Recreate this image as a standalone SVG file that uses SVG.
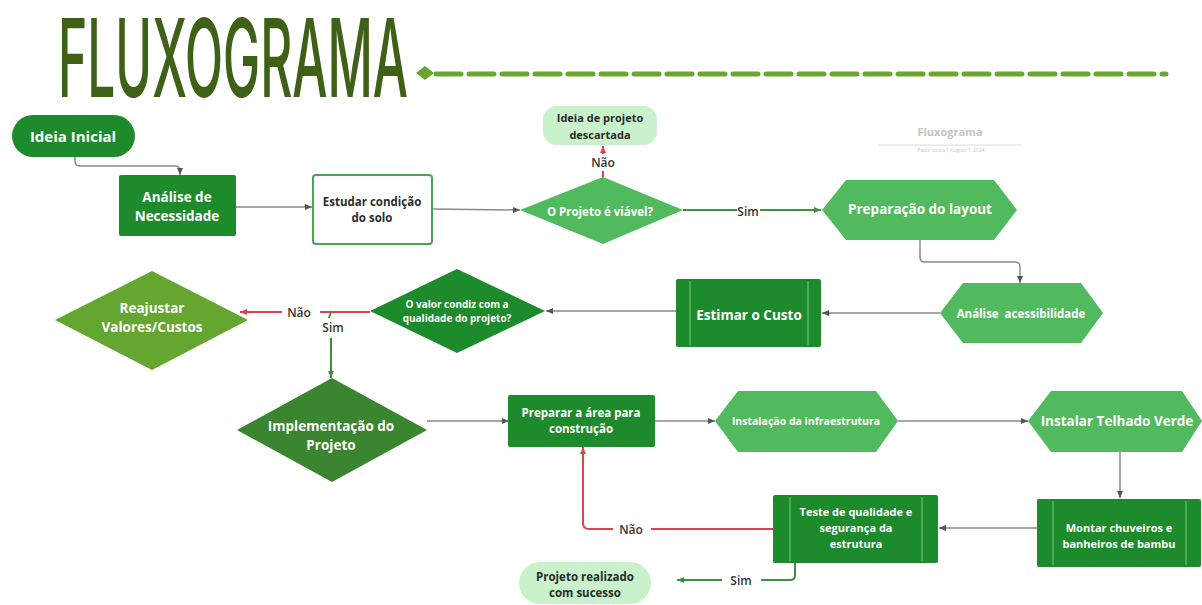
<svg xmlns="http://www.w3.org/2000/svg" width="1202" height="605" viewBox="0 0 1202 605">
<style>
.t{font-family:"Open Sans","Liberation Sans",sans-serif;font-weight:700;text-anchor:middle;dominant-baseline:central}
.w{fill:#ffffff}
.d{fill:#2b2b2b}
.dk{fill:#1d8b2b}
.md{fill:#52ba5e}
.lt{fill:#c9f1cb}
.c{fill:none;stroke:#8a8a8a;stroke-width:1.5}
.r{fill:none;stroke:#d9454f;stroke-width:2}
.g{fill:none;stroke:#3f8f3f;stroke-width:2}
.vl{stroke:#6fc07a;stroke-width:1.2}
.lbl{font-family:"Open Sans","Liberation Sans",sans-serif;font-weight:600;font-size:12px;fill:#333;text-anchor:middle;dominant-baseline:central}
</style>
<defs>
<marker id="ag" markerWidth="8" markerHeight="8" refX="7" refY="4" orient="auto" markerUnits="userSpaceOnUse"><path d="M0,1 L7,4 L0,7 z" fill="#555"/></marker>
<marker id="ar" markerWidth="8" markerHeight="8" refX="7" refY="4" orient="auto" markerUnits="userSpaceOnUse"><path d="M0,1 L7,4 L0,7 z" fill="#d9454f"/></marker>
<marker id="agr" markerWidth="8" markerHeight="8" refX="7" refY="4" orient="auto" markerUnits="userSpaceOnUse"><path d="M0,1 L7,4 L0,7 z" fill="#3f8f3f"/></marker>
</defs>
<rect width="1202" height="605" fill="#ffffff"/>

<g id="title">
<text transform="translate(58,97) scale(0.46,1)" x="0" y="0" font-family="Inter,'DejaVu Sans',sans-serif" font-size="108" font-weight="500" fill="#3f6117">FLUXOGRAMA</text>
<path d="M416,73 L425,66 L434,73 L425,80 z" fill="#6aa62e"/>
<line x1="436" y1="74" x2="1166" y2="74" stroke="#6aa62e" stroke-width="5" stroke-linecap="round" stroke-dasharray="25,8"/>
</g>

<g id="watermark">
<text x="950" y="136" font-family="'Open Sans','Liberation Sans',sans-serif" font-size="11" font-weight="700" fill="#c4c4c4" text-anchor="middle">Fluxograma</text>
<line x1="878" y1="145" x2="1022" y2="145" stroke="#dcdcdc" stroke-width="1"/>
<text x="951" y="152" font-family="'Open Sans','Liberation Sans',sans-serif" font-size="5" fill="#c8c8c8" text-anchor="middle">Paola souza  |  August 7, 2024</text>
</g>

<g id="connectors">
<path class="c" d="M75,157 L75,161 Q75,166 80,166 L175,166 Q180,166 180,171 L180,175" marker-end="url(#ag)"/>
<path class="c" d="M236,207 L312,207" marker-end="url(#ag)"/>
<path class="c" d="M432,209 L520,210" marker-end="url(#ag)"/>
<path class="r" d="M603,177 L603,171"/>
<path class="r" d="M603,154 L603,146" marker-end="url(#ar)"/>
<path class="g" d="M683,210 L737,210"/>
<path class="g" d="M760,210 L821,210" marker-end="url(#agr)"/>
<path class="c" d="M920,240 L920,257 Q920,262 925,262 L1015,262 Q1020,262 1020,267 L1020,283" marker-end="url(#ag)"/>
<path class="c" d="M940,313 L822,313" marker-end="url(#ag)"/>
<path class="c" d="M676,311 L546,311" marker-end="url(#ag)"/>
<path class="r" d="M370,312 L320,312"/>
<path class="r" d="M282,312 L240,312" marker-end="url(#ar)"/>
<path class="g" d="M331,312 L329,318"/>
<path class="g" d="M331,338 L331,378" marker-end="url(#agr)"/>
<path class="c" d="M427,421 L509,421" marker-end="url(#ag)"/>
<path class="c" d="M655,421 L715,421" marker-end="url(#ag)"/>
<path class="c" d="M898,421 L1028,421" marker-end="url(#ag)"/>
<path class="c" d="M1120,452 L1120,498" marker-end="url(#ag)"/>
<path class="c" d="M1037,528 L939,528" marker-end="url(#ag)"/>
<path class="r" d="M773,529 L651,529"/>
<path class="r" d="M613,529 L589,529 Q583,529 583,523 L583,447" marker-end="url(#ar)"/>
<path class="g" d="M795,563 L795,575 Q795,580 790,580 L761,580"/>
<path class="g" d="M722,580 L677,580" marker-end="url(#agr)"/>
<text class="lbl" x="603" y="162">Não</text>
<text class="lbl" x="748" y="211">Sim</text>
<text class="lbl" x="299" y="312">Não</text>
<text class="lbl" x="333" y="327">Sim</text>
<text class="lbl" x="631" y="529">Não</text>
<text class="lbl" x="741" y="580">Sim</text>
</g>

<g id="ideia-inicial">
<rect x="12" y="115" width="123" height="42" rx="21" class="dk"/>
<text class="t w" x="73" y="136" font-size="15">Ideia Inicial</text>
</g>

<g id="analise-necessidade">
<rect x="119" y="175" width="117" height="61" rx="2" class="dk"/>
<text class="t w" x="177" y="197" font-size="13.5">Análise de</text>
<text class="t w" x="177" y="216" font-size="13.5">Necessidade</text>
</g>

<g id="estudar-solo">
<rect x="313" y="175" width="119" height="69" rx="3" fill="#ffffff" stroke="#4aa356" stroke-width="2"/>
<text class="t d" x="372" y="201" font-size="11.5" font-weight="600">Estudar condição</text>
<text class="t d" x="372" y="217" font-size="11.5" font-weight="600">do solo</text>
</g>

<g id="projeto-viavel">
<path d="M520,210 L603,177 L683,210 L603,244 z" class="md"/>
<text class="t w" x="600" y="211" font-size="11.5">O Projeto é viável?</text>
</g>

<g id="ideia-descartada">
<rect x="543" y="106" width="114" height="39" rx="14" class="lt"/>
<text class="t d" x="600" y="117" font-size="11" font-weight="600">Ideia de projeto</text>
<text class="t d" x="600" y="134" font-size="11" font-weight="600">descartada</text>
</g>

<g id="preparacao-layout">
<path d="M822,210 L846,180 L994,180 L1017,210 L994,240 L846,240 z" class="md"/>
<text class="t w" x="920" y="209" font-size="13.5">Preparação do layout</text>
</g>

<g id="analise-acessibilidade">
<path d="M940,313 L963,283 L1081,283 L1103,313 L1081,343 L963,343 z" class="md"/>
<text class="t w" x="1021" y="313" font-size="11.5" xml:space="preserve">Análise  acessibilidade</text>
</g>

<g id="estimar-custo">
<rect x="676" y="279" width="145" height="68" rx="2" class="dk"/>
<line class="vl" x1="690" y1="281" x2="690" y2="345"/>
<line class="vl" x1="808" y1="281" x2="808" y2="345"/>
<text class="t w" x="749" y="315" font-size="13.5">Estimar o Custo</text>
</g>

<g id="valor-condiz">
<path d="M370,311 L457,269 L545,311 L457,353 z" class="dk"/>
<text class="t w" x="457" y="304" font-size="10">O valor condiz com a</text>
<text class="t w" x="457" y="318" font-size="10">qualidade do projeto?</text>
</g>

<g id="reajustar">
<path d="M55,320 L152,271 L248,320 L152,370 z" fill="#64a62f"/>
<text class="t w" x="152" y="308" font-size="13.5">Reajustar</text>
<text class="t w" x="152" y="327" font-size="13.5">Valores/Custos</text>
</g>

<g id="implementacao">
<path d="M237,430 L332,378 L427,430 L332,482 z" fill="#3b8430"/>
<text class="t w" x="331" y="426" font-size="13.5">Implementação do</text>
<text class="t w" x="331" y="445" font-size="13.5">Projeto</text>
</g>

<g id="preparar-area">
<rect x="508" y="395" width="147" height="52" rx="2" class="dk"/>
<text class="t w" x="581" y="412" font-size="11.5">Preparar a área para</text>
<text class="t w" x="581" y="428" font-size="11.5">construção</text>
</g>

<g id="instalacao-infra">
<path d="M715,421 L738,391 L876,391 L898,421 L876,452 L738,452 z" class="md"/>
<text class="t w" x="806" y="421" font-size="10.5">Instalação da infraestrutura</text>
</g>

<g id="telhado-verde">
<path d="M1028,421 L1051,391 L1182,391 L1202,421 L1182,452 L1051,452 z" class="md"/>
<text class="t w" x="1117" y="421" font-size="13.5">Instalar Telhado Verde</text>
</g>

<g id="montar-chuveiros">
<rect x="1037" y="499" width="164" height="68" rx="2" class="dk"/>
<line class="vl" x1="1053" y1="501" x2="1053" y2="565"/>
<line class="vl" x1="1186" y1="501" x2="1186" y2="565"/>
<text class="t w" x="1119" y="527" font-size="11">Montar chuveiros e</text>
<text class="t w" x="1119" y="543" font-size="11">banheiros de bambu</text>
</g>

<g id="teste-qualidade">
<rect x="773" y="495" width="165" height="68" rx="2" class="dk"/>
<line class="vl" x1="790" y1="497" x2="790" y2="561"/>
<line class="vl" x1="922" y1="497" x2="922" y2="561"/>
<text class="t w" x="856" y="511" font-size="11">Teste de qualidade e</text>
<text class="t w" x="856" y="527" font-size="11">segurança da</text>
<text class="t w" x="856" y="543" font-size="11">estrutura</text>
</g>

<g id="projeto-realizado">
<rect x="519" y="562" width="132" height="42" rx="21" class="lt"/>
<text class="t d" x="585" y="576" font-size="11.5" font-weight="600">Projeto realizado</text>
<text class="t d" x="585" y="592" font-size="11.5" font-weight="600">com sucesso</text>
</g>
</svg>
